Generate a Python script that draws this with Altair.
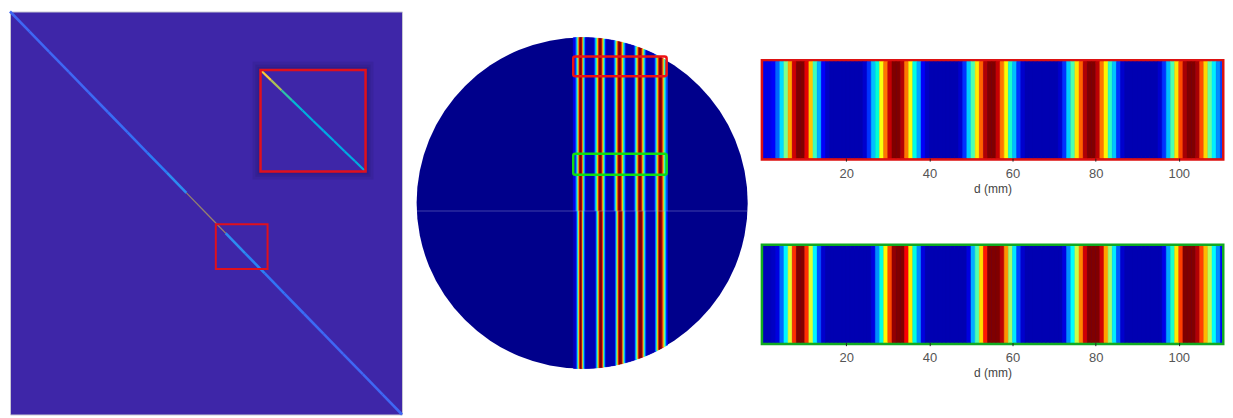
import altair as alt
import numpy as np
import pandas as pd

# ---------------- data ----------------
# Left panel: normalised intensities along the matrix diagonal (parula map)
MATRIX_SIZE = 1000
diag_main_values = [0.17, 0.17, 0.17, 0.17, 0.18, 0.19, 0.20, 0.24, 0.30, 0.78,
                    0.82, 0.30, 0.26, 0.21, 0.19, 0.18, 0.17, 0.17, 0.17, 0.17]
diag_inset_values = [0.92, 0.72, 0.55, 0.46, 0.42, 0.40, 0.40, 0.40, 0.41, 0.42]
zoom_box = [525, 528, 657, 639]      # x1, y1, x2, y2 (matrix index units)
inset_box = [639, 145, 907, 397]

# Right panels: fringe intensity along d (mm), one value per 1-mm cell
d_ticks = [20, 40, 60, 80, 100]
profile_top = [
    0.10, 0.10, 0.12, 0.18, 0.32, 0.52, 0.74, 0.92, 1.00, 1.00,
    0.90, 0.70, 0.47, 0.26, 0.12, 0.06, 0.04, 0.04, 0.04, 0.04,
    0.04, 0.04, 0.04, 0.04, 0.07, 0.14, 0.28, 0.44, 0.62, 0.80,
    0.93, 1.00, 1.00, 0.95, 0.80, 0.62, 0.42, 0.25, 0.12, 0.06,
    0.04, 0.04, 0.04, 0.04, 0.04, 0.04, 0.04, 0.07, 0.14, 0.30,
    0.48, 0.65, 0.82, 0.95, 1.00, 1.00, 0.93, 0.80, 0.63, 0.45,
    0.28, 0.14, 0.07, 0.04, 0.04, 0.04, 0.04, 0.04, 0.04, 0.04,
    0.04, 0.07, 0.14, 0.30, 0.48, 0.66, 0.82, 0.95, 1.00, 1.00,
    0.94, 0.80, 0.64, 0.46, 0.29, 0.14, 0.07, 0.04, 0.04, 0.04,
    0.04, 0.04, 0.04, 0.04, 0.04, 0.07, 0.14, 0.28, 0.48, 0.66,
    0.84, 0.96, 1.00, 1.00, 0.96, 0.84, 0.68, 0.50, 0.35, 0.22,
    0.15]
profile_bottom = [
    0.05, 0.05, 0.06, 0.09, 0.18, 0.36, 0.60, 0.86, 1.00, 1.00,
    0.86, 0.60, 0.36, 0.16, 0.07, 0.04, 0.04, 0.04, 0.04, 0.04,
    0.04, 0.04, 0.04, 0.04, 0.04, 0.04, 0.09, 0.22, 0.42, 0.63,
    0.84, 0.98, 1.00, 1.00, 0.88, 0.65, 0.42, 0.22, 0.09, 0.04,
    0.04, 0.04, 0.04, 0.04, 0.04, 0.04, 0.04, 0.04, 0.04, 0.09,
    0.26, 0.48, 0.67, 0.87, 1.00, 1.00, 1.00, 0.94, 0.77, 0.55,
    0.34, 0.15, 0.07, 0.04, 0.04, 0.04, 0.04, 0.04, 0.04, 0.04,
    0.04, 0.04, 0.09, 0.22, 0.38, 0.58, 0.78, 0.92, 1.00, 1.00,
    1.00, 0.92, 0.75, 0.55, 0.35, 0.17, 0.07, 0.04, 0.04, 0.04,
    0.04, 0.04, 0.04, 0.04, 0.04, 0.04, 0.10, 0.25, 0.45, 0.65,
    0.85, 1.00, 1.00, 1.00, 0.95, 0.85, 0.72, 0.57, 0.38, 0.22,
    0.12]

# Middle panel: circular aperture (mm) and the two sampled bands
circle_cx, circle_cy, circle_r = 10.5, 0.0, 195.0
band_top_y = [149.2, 172.7]
band_bottom_y = [33.3, 57.9]
mid_line_y = -9.4

# ---------------- colour maps ----------------
parula = alt.Scale(domain=[0, 0.15, 0.3, 0.45, 0.6, 0.75, 0.9, 1.0],
                   range=['#3e26a8', '#4760f3', '#2d8cf0', '#16b4d6',
                          '#5cc28c', '#c0bd4e', '#fbbf3a', '#f9fb15'])
jet = alt.Scale(domain=[0, 0.125, 0.375, 0.625, 0.875, 1.0],
                range=['#000090', '#0000ff', '#00ffff', '#ffff00', '#ff0000', '#800000'])

FONT = 'Liberation Sans'

# ---------------- left panel ----------------
N = MATRIX_SIZE
W_L, H_L = 393, 404
lx = alt.Scale(domain=[0, N], nice=False, zero=False)
ly = alt.Scale(domain=[0, N], nice=False, zero=False, reverse=True)

nseg = len(diag_main_values)
diag_df = pd.DataFrame({
    'x': [i * N / nseg for i in range(nseg)],
    'x2': [(i + 1) * N / nseg for i in range(nseg)],
    'v': diag_main_values,
})
diag_df['y'] = diag_df['x']
diag_df['y2'] = diag_df['x2']

bx1, by1, bx2, by2 = inset_box
nin = len(diag_inset_values)
ins_df = pd.DataFrame({
    'x': [bx1 + (bx2 - bx1) * i / nin for i in range(nin)],
    'x2': [bx1 + (bx2 - bx1) * (i + 1) / nin for i in range(nin)],
    'y': [by1 + (by2 - by1) * i / nin for i in range(nin)],
    'y2': [by1 + (by2 - by1) * (i + 1) / nin for i in range(nin)],
    'v': diag_inset_values,
})

halo_pads = [20, 13, 7]
halo_df = pd.DataFrame({
    'x': [bx1 - p for p in halo_pads], 'x2': [bx2 + p for p in halo_pads],
    'y': [by1 - p for p in halo_pads], 'y2': [by2 + p for p in halo_pads],
})
inset_df = pd.DataFrame({'x': [bx1], 'x2': [bx2], 'y': [by1], 'y2': [by2]})
zoom_df = pd.DataFrame({'x': [zoom_box[0]], 'x2': [zoom_box[2]],
                        'y': [zoom_box[1]], 'y2': [zoom_box[3]]})


def seg_enc(df_has_color=True):
    enc = dict(
        x=alt.X('x:Q', scale=lx, axis=None),
        x2='x2:Q',
        y=alt.Y('y:Q', scale=ly, axis=None),
        y2='y2:Q',
    )
    if df_has_color:
        enc['color'] = alt.Color('v:Q', scale=parula, legend=None)
    return enc


left = alt.layer(
    alt.Chart(diag_df).transform_filter('datum.v < 0.5')
    .mark_rule(strokeWidth=2.6, strokeCap='butt').encode(**seg_enc()),
    alt.Chart(diag_df).transform_filter('datum.v >= 0.5')
    .mark_rule(strokeWidth=1.3, strokeCap='butt', opacity=0.6).encode(**seg_enc()),
    alt.Chart(halo_df).mark_rect(color='#160c55', opacity=0.13).encode(**seg_enc(False)),
    alt.Chart(inset_df).mark_rect(color='#3e26a8').encode(**seg_enc(False)),
    alt.Chart(ins_df).mark_rule(strokeWidth=2.2, strokeCap='butt').encode(**seg_enc()),
    alt.Chart(inset_df).mark_rect(fillOpacity=0, stroke='#e0101c', strokeWidth=2.5).encode(**seg_enc(False)),
    alt.Chart(zoom_df).mark_rect(fillOpacity=0, stroke='#e0101c', strokeWidth=2).encode(**seg_enc(False)),
).properties(width=W_L, height=H_L,
             view=alt.ViewBackground(fill='#3e26a8', stroke='#c8c8d4', strokeWidth=1))

# ---------------- middle panel ----------------
W_M, H_M = 352, 404
mx = alt.Scale(domain=[-195.8, 217.8], nice=False, zero=False)
my = alt.Scale(domain=[-249.1, 225.6], nice=False, zero=False)
px_per_mm = W_M / (217.8 + 195.8)

circ_df = pd.DataFrame({'x': [circle_cx], 'y': [circle_cy]})

# upper part of the aperture shows the top profile, lower part the bottom one;
# they meet at the faint horizontal line
rows = []
for i, (vt, vb) in enumerate(zip(profile_top, profile_bottom)):
    half = np.sqrt(circle_r ** 2 - (i + 0.5 - circle_cx) ** 2)
    rows.append({'x': i, 'x2': i + 1, 'y': mid_line_y, 'y2': circle_cy + half, 'v': vt})
    rows.append({'x': i, 'x2': i + 1, 'y': circle_cy - half, 'y2': mid_line_y, 'v': vb})
stripe_df = pd.DataFrame(rows)

half_line = np.sqrt(circle_r ** 2 - (mid_line_y - circle_cy) ** 2)
line_df = pd.DataFrame({'x': [circle_cx - half_line], 'x2': [circle_cx + half_line],
                        'y': [mid_line_y]})
n_prof = len(profile_top) - 1
bands_df = pd.DataFrame({
    'x': [0, 0], 'x2': [n_prof, n_prof],
    'y': [band_top_y[0], band_bottom_y[0]], 'y2': [band_top_y[1], band_bottom_y[1]],
    'band': ['top', 'bottom'],
})

mid_enc = dict(x=alt.X('x:Q', scale=mx, axis=None), y=alt.Y('y:Q', scale=my, axis=None))

middle = alt.layer(
    alt.Chart(circ_df).mark_arc(theta=0, theta2=2 * np.pi, radius=circle_r * px_per_mm,
                                color='#00008b').encode(**mid_enc),
    alt.Chart(stripe_df).mark_rect(strokeWidth=0.5).encode(
        x2='x2:Q', y2='y2:Q',
        color=alt.Color('v:Q', scale=jet, legend=None),
        stroke=alt.Stroke('v:Q', scale=jet, legend=None),
        **mid_enc),
    alt.Chart(line_df).mark_rule(color='#9090d0', opacity=0.45, strokeWidth=1).encode(
        x2='x2:Q', **mid_enc),
    alt.Chart(bands_df).mark_rect(fillOpacity=0, strokeWidth=2.5, cornerRadius=2).encode(
        x2='x2:Q', y2='y2:Q',
        stroke=alt.Stroke('band:N', scale=alt.Scale(domain=['top', 'bottom'],
                                                    range=['#ee1111', '#11dd11']),
                          legend=None),
        **mid_enc),
).properties(width=W_M, height=H_M)

# ---------------- right panels ----------------
W_R, H_R = 460, 97
rx = alt.Scale(domain=[0, 110.4], nice=False, zero=False)


def strip(values, frame_color):
    df = pd.DataFrame({'d': list(range(len(values))),
                       'd2': list(range(1, len(values) + 1)),
                       'v': values})
    return alt.Chart(df).mark_rect(clip=True, strokeWidth=0.5).encode(
        x=alt.X('d:Q', scale=rx,
                axis=alt.Axis(values=d_ticks, title='d (mm)', grid=False, domain=False,
                              ticks=True, tickSize=3, tickColor='#222222',
                              labelFont=FONT, labelFontSize=13, labelColor='#555555',
                              labelPadding=6, titleFont=FONT, titleFontSize=12,
                              titleFontWeight='normal', titleColor='#444444',
                              titlePadding=3)),
        x2='d2:Q',
        y=alt.value(0),
        y2=alt.value(H_R),
        color=alt.Color('v:Q', scale=jet, legend=None),
        stroke=alt.Stroke('v:Q', scale=jet, legend=None),
    ).properties(width=W_R, height=H_R,
                 view=alt.ViewBackground(fill='#0000b4', stroke=frame_color, strokeWidth=5))


spacer = alt.Chart(pd.DataFrame({'s': [0]})).mark_point(opacity=0).encode(
    x=alt.value(0), y=alt.value(0)).properties(width=W_R, height=50)

right = alt.vconcat(
    spacer,
    alt.vconcat(strip(profile_top, '#dd1111'), strip(profile_bottom, '#11aa22'),
                spacing=88, bounds='flush'),
    spacing=0, bounds='flush')

chart = alt.hconcat(left, middle, right, spacing=5, bounds='flush').resolve_scale(
    color='independent', stroke='independent'
).properties(padding=0).configure_view(stroke=None)

chart.save("out.html", embed_options={"renderer": "svg", "actions": False})
